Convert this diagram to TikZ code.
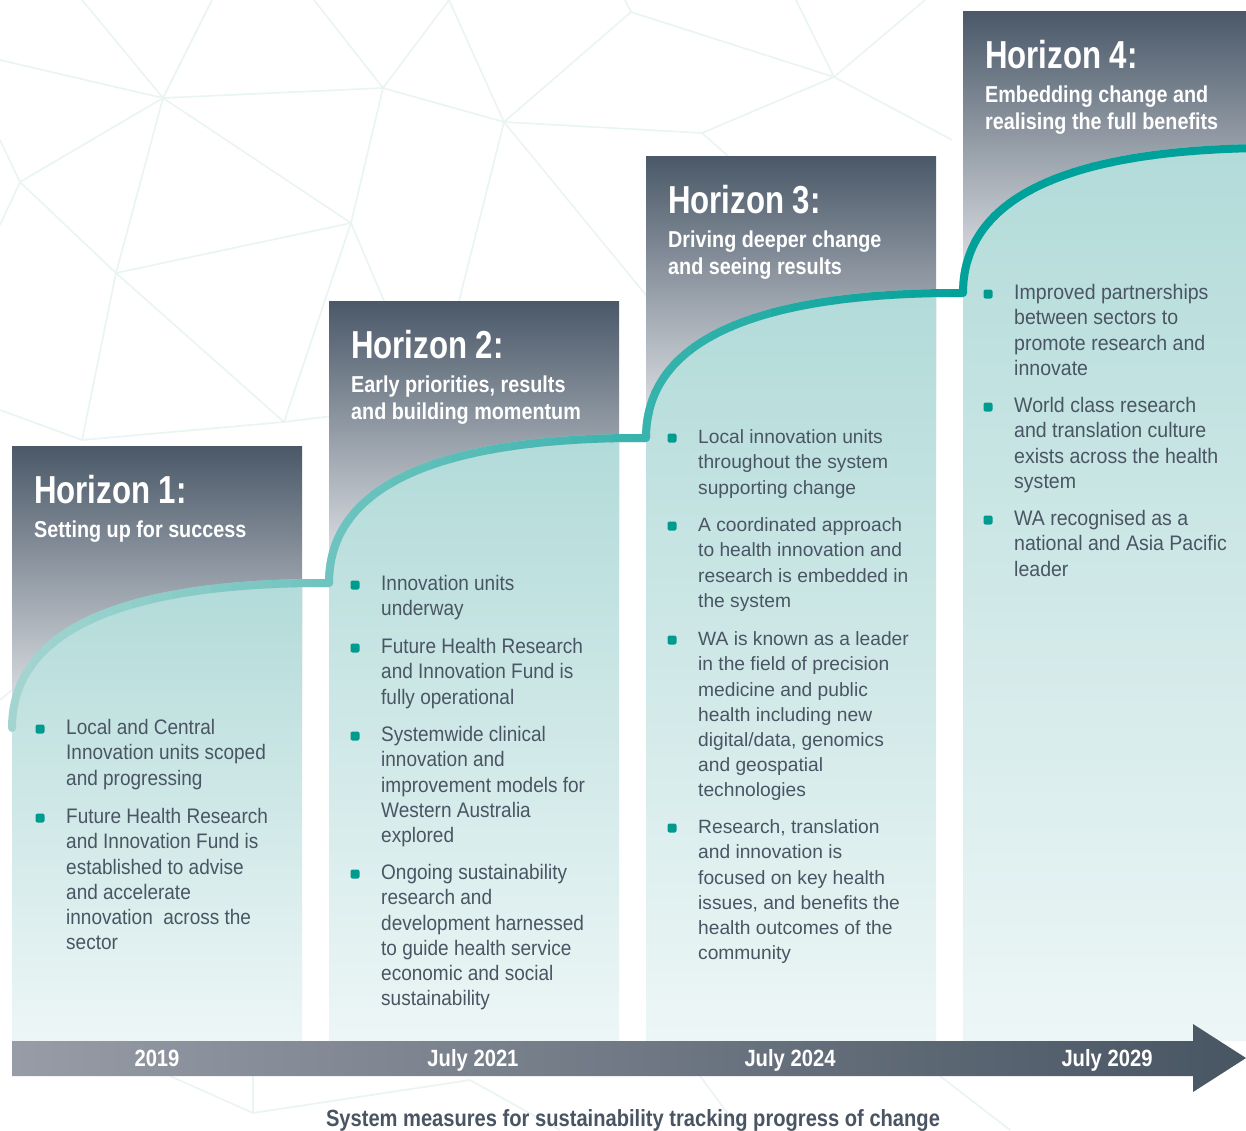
\documentclass[tikz,border=0pt]{standalone}
\usepackage{fontspec}
\setmainfont{Liberation Sans}[FakeStretch=0.905]
\newfontfamily\titlefont{Liberation Sans}[FakeStretch=0.80]
\newfontfamily\subfont{Liberation Sans}[FakeStretch=0.86]
\newfontfamily\plainfont{Liberation Sans}
\newfontfamily\widefont{Liberation Sans}[FakeStretch=0.93]
\definecolor{slate}{HTML}{4A5868}
\definecolor{fog}{HTML}{E9EBEE}
\definecolor{aqua}{HTML}{B2DBD9}
\definecolor{aquapale}{HTML}{EDF6F6}
\definecolor{lineA}{HTML}{A3D4D0}
\definecolor{lineB}{HTML}{00A19A}
\definecolor{dot}{HTML}{009B8F}
\definecolor{bodytext}{HTML}{4A5563}
\definecolor{barL}{HTML}{979CA6}
\definecolor{barR}{HTML}{485563}
\definecolor{mesh}{HTML}{E9F4F3}
\newcommand{\hcol}[3]{%
  \shade[top color=slate, bottom color=fog] (#1,#3) rectangle (#2,#3+282);
  \begin{scope}
    \clip (#1,#3) rectangle (#2,1041);
    \shade[top color=aqua, bottom color=aquapale] (#1,#3+282) .. controls (#1,#3+172) and (#1+138,#3+139) .. (#1+298,#3+137) -- (#1+298,1041) -- (#1,1041) -- cycle;
  \end{scope}}
\newcommand{\bitem}[5]{% name, x, baseline, font, text
  \node[bulletsq] (#1b) at (#2-26,#3-5.5) {};
  \node[bodytxt, font=#4] (#1) at (#2,#3-17) {\rule{0pt}{17pt}#5};}
\def\curvepath{(12,728) .. controls (12,618) and (150,585) .. (310,583) -- (329,583) .. controls (329,473) and (467,440) .. (627,438) -- (646,438) .. controls (646,328) and (784,295) .. (944,293) -- (963,293) .. controls (963,183) and (1101,150) .. (1261,148)}
\begin{document}
\begin{tikzpicture}[x=1pt,y=-1pt,
  bulletsq/.style={rectangle, rounded corners=2pt, minimum size=9pt, inner sep=0pt, fill=dot},
  bodytxt/.style={anchor=north west, align=left, inner sep=0pt, text=bodytext},
  titletxt/.style={anchor=base west, inner sep=0pt, text=white, font=\titlefont\bfseries\fontsize{39}{40}\selectfont},
  subtxt/.style={anchor=north west, align=left, inner sep=0pt, text=white, font=\subfont\bfseries\fontsize{23}{27}\selectfont},
  datetxt/.style={anchor=base, inner sep=0pt, text=white, font=\subfont\bfseries\fontsize{23.5}{25}\selectfont},
  meshline/.style={draw=mesh, line width=1.6pt}]
\useasboundingbox (0,0) rectangle (1246,1130);
\fill[white] (0,0) rectangle (1246,1130);
% background mesh
\draw[meshline] (0,60) -- (163,98) -- (82,0);
\draw[meshline] (212,0) -- (163,98) -- (383,88) -- (314,0);
\draw[meshline] (163,98) -- (20,182) -- (0,140);
\draw[meshline] (163,98) -- (351,223) -- (383,88) -- (449,0) -- (504,122) -- (383,88);
\draw[meshline] (163,98) -- (116,273) -- (351,223) -- (284,422) -- (116,273) -- (20,182) -- (0,225);
\draw[meshline] (116,273) -- (82,440) -- (0,410);
\draw[meshline] (82,440) -- (284,422) -- (340,415);
\draw[meshline] (351,223) -- (384,301);
\draw[meshline] (504,122) -- (459,301);
\draw[meshline] (504,122) -- (631,12) -- (625,0);
\draw[meshline] (631,12) -- (834,77) -- (796,0);
\draw[meshline] (834,77) -- (925,0);
\draw[meshline] (504,122) -- (702,133) -- (834,77) -- (952,140);
\draw[meshline] (702,133) -- (728,156);
\draw[meshline] (504,122) -- (650,300);
\draw[meshline] (0,700) -- (12,690);
\draw[meshline] (170,1076) -- (253,1113) -- (470,1080);
\draw[meshline] (253,1113) -- (253,1076);
\draw[meshline] (470,1080) -- (560,1130);
\draw[meshline] (700,1076) -- (740,1130);
\draw[meshline] (940,1076) -- (1010,1130);
% columns
\hcol{12}{302}{446}
\hcol{329}{619}{301}
\hcol{646}{936}{156}
\hcol{963}{1246}{11}
% growth curve with a horizontal colour gradient
\draw[line width=8pt, line cap=round, line join=round, draw=lineA] \curvepath;
\foreach \i in {1,...,62}{
  \pgfmathtruncatemacro\p{min(100,\i*2.107)}
  \begin{scope}
    \clip (12+\i*20-0.6,0) rectangle (12+\i*20+20.6,1130);
    \draw[line width=8pt, line cap=round, line join=round, draw=lineB!\p!lineA] \curvepath;
  \end{scope}}
% timeline arrow
\shade[left color=barL, right color=barR] (12,1041) -- (1193,1041) -- (1193,1024) -- (1246,1058) -- (1193,1092) -- (1193,1076) -- (12,1076) -- cycle;
\node[datetxt] (d1) at (157,1066) {2019};
\node[datetxt] (d2) at (473,1066) {July 2021};
\node[datetxt] (d3) at (790,1066) {July 2024};
\node[datetxt] (d4) at (1107,1066) {July 2029};
\node[anchor=base, inner sep=0pt, text=bodytext, font=\subfont\bfseries\fontsize{23.4}{25}\selectfont] (foot) at (633,1126) {System measures for sustainability tracking progress of change};
% headings
\node[titletxt] (h1) at (34,503) {Horizon 1:};
\node[subtxt] (s1) at (34,519) {\rule{0pt}{18pt}Setting up for success};
\node[titletxt] (h2) at (351,358) {Horizon 2:};
\node[subtxt] (s2) at (351,374) {\rule{0pt}{18pt}Early priorities, results\\and building momentum};
\node[titletxt] (h3) at (668,213) {Horizon 3:};
\node[subtxt] (s3) at (668,229) {\rule{0pt}{18pt}Driving deeper change\\and seeing results};
\node[titletxt] (h4) at (985,68) {Horizon 4:};
\node[subtxt] (s4) at (985,84) {\rule{0pt}{18pt}Embedding change and\\realising the full benefits};
% bullet items
\def\nb{\fontsize{21}{25.2}\selectfont}
\def\pb{\plainfont\fontsize{19.2}{25.2}\selectfont}
\def\wb{\widefont\fontsize{21}{25.2}\selectfont}
\bitem{a1}{66}{734.5}{\nb}{Local and Central\\Innovation units scoped\\and progressing}
\bitem{a2}{66}{823.5}{\nb}{Future Health Research\\and Innovation Fund is\\established to advise\\and accelerate\\innovation \ across the\\sector}
\bitem{b1}{381}{590.5}{\nb}{Innovation units\\underway}
\bitem{b2}{381}{653.5}{\nb}{Future Health Research\\and Innovation Fund is\\fully operational}
\bitem{b3}{381}{741.5}{\nb}{Systemwide clinical\\innovation and\\improvement models for\\Western Australia\\explored}
\bitem{b4}{381}{879.5}{\nb}{Ongoing sustainability\\research and\\development harnessed\\to guide health service\\economic and social\\sustainability}
\bitem{c1}{698}{443.5}{\pb}{Local innovation units\\throughout the system\\supporting change}
\bitem{c2}{698}{531.5}{\pb}{A coordinated approach\\to health innovation and\\research is embedded in\\the system}
\bitem{c3}{698}{645.5}{\pb}{WA is known as a leader\\in the field of precision\\medicine and public\\health including new\\digital/data, genomics\\and geospatial\\technologies}
\bitem{c4}{698}{833.5}{\pb}{Research, translation\\and innovation is\\focused on key health\\issues, and benefits the\\health outcomes of the\\community}
\bitem{e1}{1014}{299.5}{\wb}{Improved partnerships\\between sectors to\\promote research and\\innovate}
\bitem{e2}{1014}{412.5}{\wb}{World class research\\and translation culture\\exists across the health\\system}
\bitem{e3}{1014}{525.5}{\wb}{WA recognised as a\\national and Asia Pacific\\leader}
\end{tikzpicture}
\end{document}
